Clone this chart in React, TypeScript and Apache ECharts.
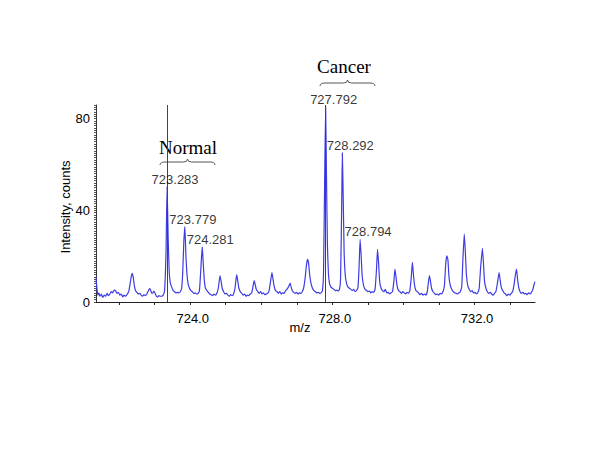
import React, { useEffect, useRef } from "react";
import * as echarts from "echarts";

// m/z axis
const xMin = 721.35;
const xMax = 733.7;
const xTickValues = [722, 723, 724, 725, 726, 727, 728, 729, 730, 731, 732, 733];
const xLabelValues = [724, 728, 732];
// intensity axis
const yMax = 86;
const yLabelValues = [0, 40, 80];

// spectrum profile [m/z, counts]
const profile: [number, number][] = [
  [721.35, 11], [721.37, 7], [721.40, 3], [721.43, 4], [721.46, 2.5], [721.50, 3.5], [721.54, 2], [721.58, 3],
  [721.62, 2.5], [721.66, 3.8], [721.70, 2.8], [721.74, 3.5], [721.78, 4.5], [721.82, 4], [721.86, 5.2], [721.90, 5],
  [721.94, 3.8], [721.98, 4.2], [722.02, 3], [722.06, 3.5], [722.10, 2.2], [722.14, 3], [722.18, 2.5], [722.22, 3.2],
  [722.27, 4.5], [722.31, 8], [722.34, 11], [722.37, 12.5], [722.40, 10.5], [722.43, 7], [722.46, 5], [722.50, 4.2],
  [722.54, 3.5], [722.58, 3.8], [722.62, 3], [722.66, 2.5], [722.70, 3.2], [722.74, 2.8], [722.78, 3.5], [722.82, 4.8],
  [722.86, 6], [722.89, 5], [722.92, 3.8], [722.95, 4], [722.98, 4.8], [723.02, 3.5], [723.05, 2.5], [723.08, 2.2],
  [723.12, 2.8], [723.16, 2.5], [723.20, 2.5], [723.24, 3], [723.28, 5], [723.32, 22], [723.35, 50.3], [723.38, 28],
  [723.41, 13], [723.44, 8.5], [723.48, 6.5], [723.52, 5], [723.56, 4.5], [723.60, 4], [723.64, 4.2], [723.68, 4],
  [723.72, 4.5], [723.76, 6], [723.79, 13], [723.82, 26], [723.85, 32.9], [723.88, 20], [723.91, 12], [723.94, 8],
  [723.98, 6], [724.02, 5], [724.06, 4.5], [724.10, 3.8], [724.14, 4], [724.18, 3.5], [724.22, 3.8], [724.26, 5],
  [724.29, 12], [724.32, 20], [724.34, 24.1], [724.37, 16], [724.40, 9], [724.43, 6], [724.47, 5], [724.51, 4.2],
  [724.55, 3.5], [724.59, 3.2], [724.63, 2.8], [724.67, 3.5], [724.71, 3], [724.75, 3.8], [724.79, 6], [724.82, 9.5],
  [724.84, 11.4], [724.87, 9], [724.90, 6], [724.94, 4.5], [724.98, 3.5], [725.02, 3.8], [725.06, 3], [725.10, 2.5],
  [725.14, 3.2], [725.18, 2.8], [725.22, 3.5], [725.26, 6], [725.29, 10], [725.31, 11.8], [725.34, 9], [725.37, 6],
  [725.41, 4.5], [725.45, 3.8], [725.49, 3], [725.53, 3.5], [725.57, 2.5], [725.61, 3], [725.65, 2.8], [725.69, 3.5],
  [725.73, 4], [725.77, 7], [725.80, 9.3], [725.83, 7.5], [725.86, 5.5], [725.90, 4.5], [725.94, 3.8], [725.98, 4.5],
  [726.02, 3.5], [726.06, 4], [726.10, 3.2], [726.14, 3.5], [726.18, 3.8], [726.22, 5], [726.26, 9], [726.30, 12.8],
  [726.33, 10], [726.36, 7], [726.40, 5], [726.44, 4.5], [726.48, 3.8], [726.52, 4.5], [726.56, 3.5], [726.60, 4],
  [726.64, 3.8], [726.68, 4.8], [726.72, 5.5], [726.76, 6.5], [726.79, 7.5], [726.81, 8.2], [726.84, 6.5], [726.87, 5],
  [726.91, 4.2], [726.95, 3.8], [726.99, 4.2], [727.03, 3.5], [727.07, 4], [727.11, 3.8], [727.15, 4.5], [727.19, 6],
  [727.23, 10], [727.27, 16], [727.30, 18.6], [727.33, 17], [727.36, 12], [727.40, 8], [727.44, 6], [727.48, 5],
  [727.52, 4.5], [727.56, 4], [727.60, 4.2], [727.64, 3.8], [727.68, 4], [727.72, 5], [727.75, 12], [727.78, 50],
  [727.81, 85.3], [727.83, 60], [727.86, 25], [727.89, 12], [727.92, 8], [727.96, 6.5], [728.00, 6], [728.04, 5.5],
  [728.08, 5], [728.12, 5.2], [728.16, 4.8], [728.20, 5.5], [728.23, 10], [728.26, 40], [728.28, 65.2], [728.30, 50],
  [728.33, 22], [728.36, 12], [728.40, 8], [728.44, 6.5], [728.48, 6], [728.52, 5.5], [728.56, 5], [728.60, 5.5],
  [728.64, 4.5], [728.68, 5], [728.72, 6.5], [728.75, 15], [728.78, 27.4], [728.81, 20], [728.84, 11], [728.88, 7],
  [728.92, 5.5], [728.96, 5], [729.00, 4.5], [729.04, 4.8], [729.08, 4], [729.12, 4.5], [729.16, 4.2], [729.20, 5.5],
  [729.24, 14], [729.27, 23], [729.30, 17], [729.33, 9], [729.37, 6], [729.41, 5], [729.45, 4.5], [729.49, 5.5],
  [729.53, 4], [729.57, 4.2], [729.61, 3.5], [729.65, 4], [729.69, 4.5], [729.73, 9], [729.76, 14.4], [729.79, 11],
  [729.82, 7], [729.86, 5], [729.90, 4.5], [729.94, 3.8], [729.98, 4.5], [730.02, 4], [730.06, 3.5], [730.10, 4.2],
  [730.14, 3.8], [730.18, 5], [730.22, 11], [730.25, 17.3], [730.28, 12], [730.31, 7.5], [730.35, 5], [730.39, 4.5],
  [730.43, 3.8], [730.47, 3.2], [730.51, 3.8], [730.55, 3], [730.59, 3.5], [730.63, 3], [730.67, 4.5], [730.70, 8.5],
  [730.73, 11.5], [730.76, 9], [730.79, 6], [730.83, 4.5], [730.87, 3.8], [730.91, 3.2], [730.95, 3.5], [730.99, 3],
  [731.03, 3.8], [731.07, 3.5], [731.11, 4.5], [731.15, 7], [731.19, 17], [731.22, 20.2], [731.25, 18.5], [731.28, 11],
  [731.32, 7], [731.36, 5.5], [731.40, 4.5], [731.44, 4], [731.48, 3.8], [731.52, 3.5], [731.56, 4], [731.60, 4.5],
  [731.64, 7], [731.67, 18], [731.71, 29.6], [731.74, 22], [731.77, 12], [731.81, 7], [731.85, 5.5], [731.89, 4.5],
  [731.93, 5], [731.97, 4], [732.01, 4.2], [732.05, 3.5], [732.09, 4], [732.13, 6], [732.17, 15], [732.22, 23.4],
  [732.25, 17], [732.28, 9], [732.32, 6], [732.36, 4.5], [732.40, 3.8], [732.44, 4.2], [732.48, 3.5], [732.52, 3],
  [732.56, 3.8], [732.60, 4.5], [732.64, 8], [732.69, 12.8], [732.72, 9.5], [732.75, 6.5], [732.79, 5], [732.83, 4],
  [732.87, 3.5], [732.91, 2.8], [732.95, 3.5], [732.99, 3], [733.03, 3.8], [733.07, 4.5], [733.11, 7.5], [733.15, 12],
  [733.18, 14.4], [733.21, 10], [733.24, 6.5], [733.28, 4.5], [733.32, 3.8], [733.36, 4.2], [733.40, 3.5], [733.44, 3.8],
  [733.48, 3.2], [733.52, 4], [733.56, 3.5], [733.60, 4.2], [733.64, 5.5], [733.68, 8], [733.70, 8.9],
];

// annotated peaks
const peakLabels = ["723.283", "723.779", "724.281", "727.792", "728.292", "728.794"];
const peakMz = [723.35, 723.85, 724.34, 727.81, 728.28, 728.78];
const peakCounts = [50.3, 32.9, 24.1, 85.3, 65.2, 27.4];
// marked monoisotopic peaks (vertical lines)
const markedMz = [723.35, 727.81];

const BRACE_D = "M0 6 Q0 3 5 3 L23.5 3 Q27.5 3 27.5 0 Q27.5 3 31.5 3 L50 3 Q55 3 55 6";
let braceRegistered = false;
function ensureBrace() {
  if (braceRegistered) return;
  echarts.graphic.registerShape("brace", echarts.graphic.extendPath(BRACE_D, {}) as any);
  braceRegistered = true;
}

const yTickValues: number[] = [];
for (let i = 0; i <= yMax; i++) yTickValues.push(i);

export default function App() {
  const ref = useRef<HTMLDivElement>(null);
  useEffect(() => {
    document.body.style.margin = "0";
    ensureBrace();
    const chart = echarts.init(ref.current!, null, { renderer: "svg" });
    const font = "Liberation Sans, Arial, sans-serif";
    const serif = "Liberation Serif, Times New Roman, serif";
    chart.setOption({
      animation: false,
      backgroundColor: "#ffffff",
      grid: { left: 96, top: 105, right: 65, bottom: 148 },
      xAxis: {
        type: "value",
        min: xMin,
        max: xMax,
        axisLine: { show: true, lineStyle: { color: "#222", width: 1 } },
        axisTick: { show: true, length: 3, customValues: xTickValues, lineStyle: { color: "#222" } },
        axisLabel: {
          customValues: xLabelValues,
          formatter: (v: number) => v.toFixed(1),
          color: "#000",
          fontFamily: font,
          fontSize: 13,
          margin: 10,
          padding: [0, 0, 0, 5],
        },
        splitLine: { show: false },
      },
      yAxis: {
        type: "value",
        min: 0,
        max: yMax,
        axisLine: { show: true, lineStyle: { color: "#333", width: 1 } },
        axisTick: { show: true, length: 2, customValues: yTickValues, lineStyle: { color: "#555" } },
        axisLabel: {
          customValues: yLabelValues,
          color: "#000",
          fontFamily: font,
          fontSize: 13,
          margin: 6,
          padding: [5, 0, 0, 0],
        },
        splitLine: { show: false },
      },
      series: [
        {
          type: "line",
          data: profile,
          showSymbol: false,
          symbol: "none",
          smooth: 0.15,
          lineStyle: { color: "#3c3ce2", width: 1.2 },
          markLine: {
            symbol: "none",
            silent: true,
            label: { show: false },
            lineStyle: { color: "#444", width: 1, type: "solid" },
            data: markedMz.map((m) => ({ xAxis: m })),
          },
        },
        {
          type: "scatter",
          symbolSize: 0,
          data: peakMz.map((m, i) => ({ value: [m, peakCounts[i]], name: peakLabels[i] })),
          label: {
            show: true,
            position: "inside",
            offset: [8, -7.5],
            formatter: (p: any) => p.name,
            color: "#000",
            fontFamily: font,
            fontSize: 13,
          },
          z: 5,
        },
      ],
      graphic: [
        {
          type: "text",
          x: 65,
          y: 207,
          rotation: Math.PI / 2,
          style: { text: "Intensity, counts", font: `13px ${font}`, fill: "#000", align: "center", verticalAlign: "middle" },
        },
        {
          type: "text",
          x: 300,
          y: 327,
          style: { text: "m/z", font: `13px ${font}`, fill: "#000", align: "center", verticalAlign: "middle" },
        },
        {
          type: "text",
          x: 188,
          y: 147,
          style: { text: "Normal", font: `19px ${serif}`, fill: "#000", align: "center", verticalAlign: "middle" },
        },
        {
          type: "text",
          x: 344,
          y: 66,
          style: { text: "Cancer", font: `19px ${serif}`, fill: "#000", align: "center", verticalAlign: "middle" },
        },
        { type: "brace", x: 160, y: 159, style: { stroke: "#555", fill: "none", lineWidth: 1 } },
        { type: "brace", x: 320, y: 80, style: { stroke: "#555", fill: "none", lineWidth: 1 } },
      ],
    });
    return () => chart.dispose();
  }, []);
  return <div ref={ref} style={{ width: 600, height: 450 }} />;
}
